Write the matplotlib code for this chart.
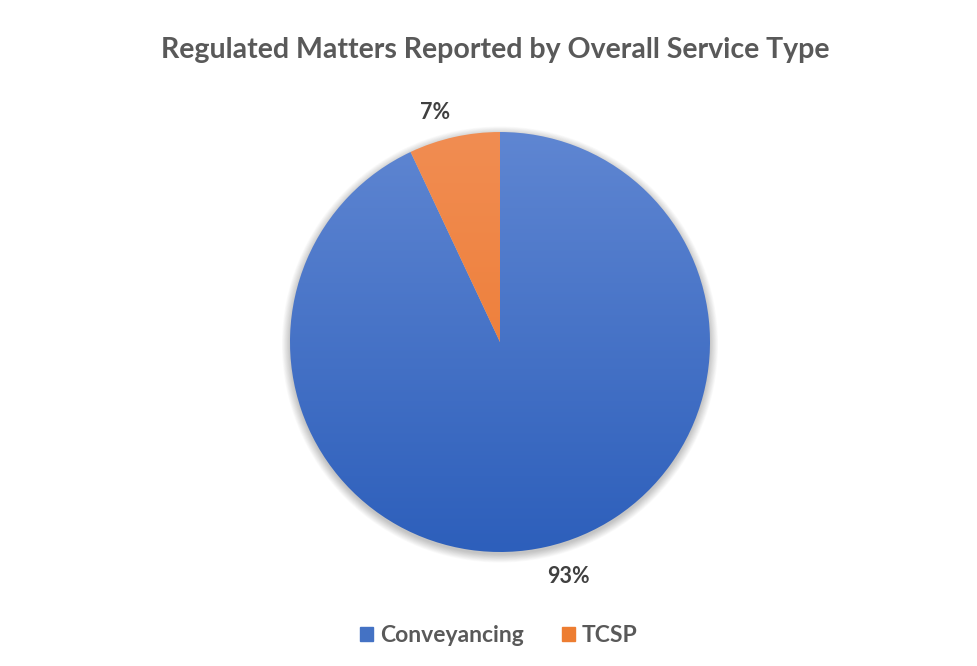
import numpy as np
import matplotlib.pyplot as plt
from matplotlib.colors import LinearSegmentedColormap
from matplotlib.patches import Circle

plt.rcParams['font.family'] = ['Lato', 'DejaVu Sans']

title = "Regulated Matters Reported by Overall Service Type"
categories = ["Conveyancing", "TCSP"]
shares = [93, 7]
# gradient colours per slice: (top, bottom)
slice_colors = [("#5f86d2", "#2d5fbb"), ("#f18d52", "#eb7428")]
legend_colors = ["#4472c4", "#ed7d31"]
text_color = "#595959"

W, H = 978, 666
fig = plt.figure(figsize=(W / 100, H / 100), dpi=100)
fig.patch.set_facecolor("white")

cx, cy, r = 500, H - 342, 210
ax = fig.add_axes([(cx - r) / W, (cy - r) / H, 2 * r / W, 2 * r / H])
ax.axis("off")

# soft shadow under the pie
for k in range(12):
    ax.add_patch(Circle((0.0, -0.012), 1.0 + 0.0035 * k, facecolor="black",
                        edgecolor="none", alpha=0.018, zorder=0, clip_on=False))

wedges, _, autotexts = ax.pie(shares, startangle=90, counterclock=False,
                              radius=1.0, autopct="%d%%", pctdistance=1.15,
                              wedgeprops=dict(linewidth=0, edgecolor="none"))

grad = np.linspace(0, 1, 256).reshape(-1, 1)
for w, (top, bot) in zip(wedges, slice_colors):
    w.set_facecolor("none")
    cmap = LinearSegmentedColormap.from_list("g", [top, bot])
    im = ax.imshow(grad, cmap=cmap, extent=(-1, 1, -1, 1), origin="upper",
                   aspect="auto", zorder=1, interpolation="bilinear")
    im.set_clip_path(w)
ax.set_xlim(-1, 1)
ax.set_ylim(-1, 1)
ax.set_aspect("equal")

label_pos = [(0.324, -1.119), (-0.31, 1.095)]
for t, pos in zip(autotexts, label_pos):
    t.set_position(pos)
    t.set_fontsize(15.5)
    t.set_fontweight("bold")
    t.set_color("#404040")
    t.set_ha("center")
    t.set_va("center")
    t.set_zorder(5)
    t.set_clip_on(False)

fig.text(0.5 + 6 / W, 1 - 50 / H, title, ha="center", va="center",
         fontsize=20.5, fontweight="bold", color=text_color)

handles = [plt.Rectangle((0, 0), 1, 1, color=c) for c in legend_colors]
leg = fig.legend(handles, categories, loc="center",
                 bbox_to_anchor=(0.5 + 10 / W, 1 - 636 / H),
                 ncol=2, frameon=False, handlelength=0.55, handleheight=0.55,
                 handletextpad=0.3, columnspacing=1.7,
                 prop=dict(weight="bold", size=16.5))
for t in leg.get_texts():
    t.set_color(text_color)

fig.savefig("out.png", dpi=100, facecolor="white")
